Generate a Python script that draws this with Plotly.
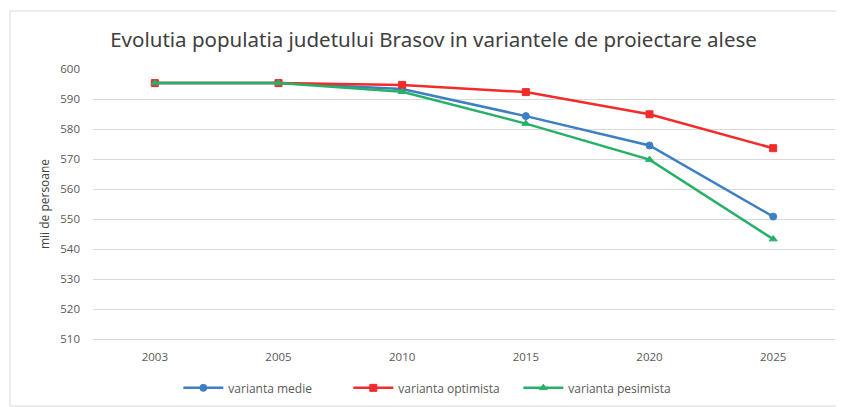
import plotly.graph_objects as go

years = ["2003", "2005", "2010", "2015", "2020", "2025"]
medie = [595.3, 595.3, 593.3, 584.3, 574.5, 550.8]
optimista = [595.3, 595.3, 594.7, 592.3, 584.9, 573.6]
pesimista = [595.3, 595.3, 592.4, 581.8, 569.8, 543.3]
yticks = [510, 520, 530, 540, 550, 560, 570, 580, 590, 600]

fig = go.Figure()
series = [
    ("varianta medie", medie, "#3C7FC2", "circle"),
    ("varianta optimista", optimista, "#F22B2B", "square"),
    ("varianta pesimista", pesimista, "#27B168", "triangle-up"),
]
for name, vals, col, sym in series:
    fig.add_trace(go.Scatter(
        x=years, y=vals, name=name, mode="lines+markers",
        line=dict(color=col, width=2.5),
        marker=dict(symbol=sym, size=7, color=col, line=dict(color=col, width=1)),
    ))

W, H = 836, 399
L, T, R, B = 85, 61, 9, 68
pw, ph = W - L - R, H - T - B

fig.update_layout(
    width=W, height=H,
    margin=dict(l=L, r=R, t=T, b=B),
    paper_bgcolor="white", plot_bgcolor="white",
    font=dict(family="Open Sans, Liberation Sans, sans-serif", color="#595959", size=11),
    title=dict(text="Evolutia populatia judetului Brasov in variantele de proiectare alese",
               x=0.509, xanchor="center", y=0.92, yanchor="middle",
               font=dict(size=20.5, color="#404040", family="Noto Sans, Open Sans, sans-serif")),
    showlegend=True,
    legend=dict(orientation="h", x=0.115, xanchor="left", yref="container", y=0.048, yanchor="middle",
                font=dict(size=12, color="#595959"), itemwidth=40, entrywidth=115),
    xaxis=dict(type="category", range=[-0.5, 5.5], showgrid=False, showline=True, linecolor="#d9d9d9",
               ticks="", ticklabelstandoff=7, tickfont=dict(size=11.5, color="#595959")),
    yaxis=dict(range=[510, 600], tickvals=yticks, showgrid=True, gridcolor="#d9d9d9",
               zeroline=False, showline=False, ticks="", ticklabelstandoff=12,
               tickfont=dict(size=11.5, color="#595959"),
               title=dict(text="mii de persoane", font=dict(size=12, color="#404040"), standoff=8)),
    shapes=[dict(type="rect", xref="paper", yref="paper",
                 x0=(2 - L) / pw, x1=(835 - L) / pw,
                 y0=(T + ph - 398) / ph, y1=(T + ph - 3) / ph,
                 line=dict(color="#d9d9d9", width=1), fillcolor="rgba(0,0,0,0)", layer="below")],
)
fig.write_html("out.html")
